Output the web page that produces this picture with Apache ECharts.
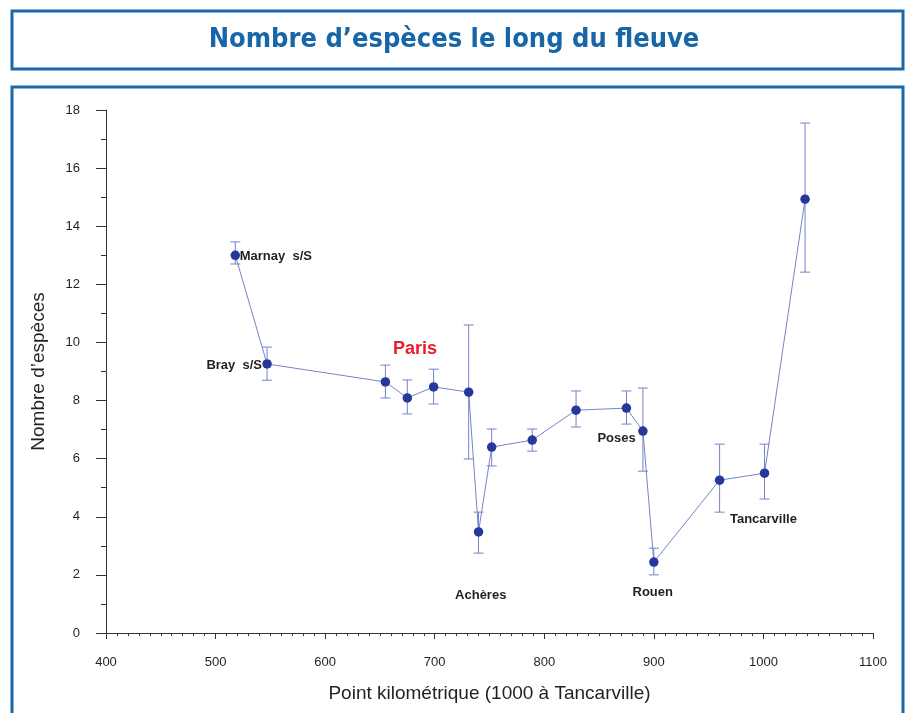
<!doctype html>
<html lang="fr">
<head>
    <meta charset="UTF-8">
    <title>Nombre d'espèces le long du fleuve</title>
    <script src="https://cdn.jsdelivr.net/npm/echarts@6/dist/echarts.min.js"></script>
    <style>
        html, body { margin: 0; padding: 0; background: #fff; }
        #chart { width: 908px; height: 713px; }
    </style>
</head>
<body>
<div id="chart"></div>
<script>
    // points kilométriques des stations
    const km = [518, 547, 655, 675, 699, 731, 740, 752, 789, 829, 875, 890, 900, 960, 1001, 1038]
    // nombre moyen d'espèces
    const especes = [13.0, 9.26, 8.64, 8.09, 8.47, 8.29, 3.48, 6.40, 6.64, 7.67, 7.74, 6.95, 2.44, 5.26, 5.50, 14.93]
    // bornes des barres d'erreur
    const errHaut = [13.46, 9.84, 9.22, 8.71, 9.08, 10.6, 4.16, 7.02, 7.02, 8.33, 8.33, 8.43, 2.92, 6.50, 6.50, 17.55]
    const errBas = [12.70, 8.70, 8.09, 7.54, 7.88, 5.99, 2.75, 5.75, 6.26, 7.09, 7.19, 5.57, 2.00, 4.16, 4.61, 12.42]

    // noms des lieux (placés en coordonnées du graphique)
    const lieux = ['Marnay  s/S', 'Bray  s/S', 'Achères', 'Poses', 'Rouen', 'Tancarville']
    const lieuxKm = [555, 517, 742, 866, 899, 1000]
    const lieuxVal = [12.97, 9.22, 1.31, 6.71, 1.38, 3.92]

    const xTicks = [400, 1100, 100]   // min, max, pas
    const yTicks = [0, 18, 2]

    const bleuTrait = '#7383c9'
    const bleuPoint = '#27389a'
    const cadre = '#1b69a9'

    const chart = echarts.init(document.getElementById('chart'), null, {renderer: 'canvas'})

    const option = {
        animation: false,
        title: {
            text: 'Nombre d\u2019espèces le long du fleuve',
            left: 'center',
            top: 21,
            textStyle: {
                fontFamily: '"DejaVu Sans Condensed", sans-serif',
                fontSize: 27,
                fontWeight: 'bold',
                color: '#1766a8'
            }
        },
        graphic: [
            {type: 'rect', shape: {x: 12, y: 11, width: 891, height: 58},
                style: {fill: 'none', stroke: cadre, lineWidth: 3}, silent: true},
            {type: 'rect', shape: {x: 12, y: 87, width: 891, height: 660},
                style: {fill: 'none', stroke: cadre, lineWidth: 3}, silent: true}
        ],
        grid: {left: 106, right: 35, top: 110, bottom: 80},
        xAxis: {
            type: 'value',
            min: xTicks[0], max: xTicks[1], interval: xTicks[2],
            name: 'Point kilométrique (1000 à Tancarville)',
            nameLocation: 'middle',
            nameGap: 51,
            nameTextStyle: {fontFamily: 'Liberation Sans', fontSize: 19, color: '#231f20'},
            axisLine: {lineStyle: {color: '#333', width: 1}},
            axisTick: {length: 6, lineStyle: {color: '#333'}},
            minorTick: {show: true, splitNumber: 10, length: 3, lineStyle: {color: '#333'}},
            axisLabel: {fontFamily: 'Liberation Sans', fontSize: 13, color: '#231f20', margin: 23,
                formatter: v => String(v)},
            splitLine: {show: false}
        },
        yAxis: {
            type: 'value',
            min: yTicks[0], max: yTicks[1], interval: yTicks[2],
            name: 'Nombre d\u2019espèces',
            nameLocation: 'middle',
            nameGap: 58,
            nameTextStyle: {fontFamily: 'Liberation Sans', fontSize: 19, color: '#231f20'},
            axisLine: {show: true, lineStyle: {color: '#333', width: 1}},
            axisTick: {show: true, length: 10, lineStyle: {color: '#333'}},
            minorTick: {show: true, splitNumber: 2, length: 5, lineStyle: {color: '#333'}},
            axisLabel: {fontFamily: 'Liberation Sans', fontSize: 13, color: '#231f20', margin: 26},
            splitLine: {show: false}
        },
        series: [
            {
                type: 'custom',
                name: 'erreur',
                z: 2,
                data: km.map((k, i) => [k, errBas[i], errHaut[i]]),
                renderItem: function (params, api) {
                    const bas = api.coord([api.value(0), api.value(1)])
                    const haut = api.coord([api.value(0), api.value(2)])
                    const w = 5
                    const st = {stroke: bleuTrait, lineWidth: 1}
                    return {
                        type: 'group',
                        children: [
                            {type: 'line', shape: {x1: haut[0], y1: haut[1], x2: bas[0], y2: bas[1]}, style: st},
                            {type: 'line', shape: {x1: haut[0] - w, y1: haut[1], x2: haut[0] + w, y2: haut[1]}, style: st},
                            {type: 'line', shape: {x1: bas[0] - w, y1: bas[1], x2: bas[0] + w, y2: bas[1]}, style: st}
                        ]
                    }
                }
            },
            {
                type: 'line',
                name: 'espèces',
                z: 3,
                data: km.map((k, i) => [k, especes[i]]),
                symbol: 'circle',
                symbolSize: 9.5,
                showAllSymbol: true,
                itemStyle: {color: bleuPoint},
                lineStyle: {color: bleuTrait, width: 1}
            },
            {
                type: 'scatter',
                name: 'lieux',
                z: 4,
                symbolSize: 0,
                itemStyle: {opacity: 1},
                data: lieux.map((n, i) => ({name: n, value: [lieuxKm[i], lieuxVal[i]]})),
                label: {
                    show: true,
                    position: 'inside',
                    formatter: p => p.name,
                    fontFamily: 'Liberation Sans',
                    fontWeight: 'bold',
                    fontSize: 13,
                    color: '#231f20'
                }
            },
            {
                type: 'scatter',
                name: 'Paris',
                z: 4,
                symbolSize: 0,
                itemStyle: {opacity: 1},
                data: [{name: 'Paris', value: [682, 9.77]}],
                label: {
                    show: true,
                    position: 'inside',
                    formatter: p => p.name,
                    fontFamily: 'Liberation Sans',
                    fontWeight: 'bold',
                    fontSize: 18,
                    color: '#ec1c2a'
                }
            }
        ]
    }
    chart.setOption(option)
</script>
</body>
</html>
